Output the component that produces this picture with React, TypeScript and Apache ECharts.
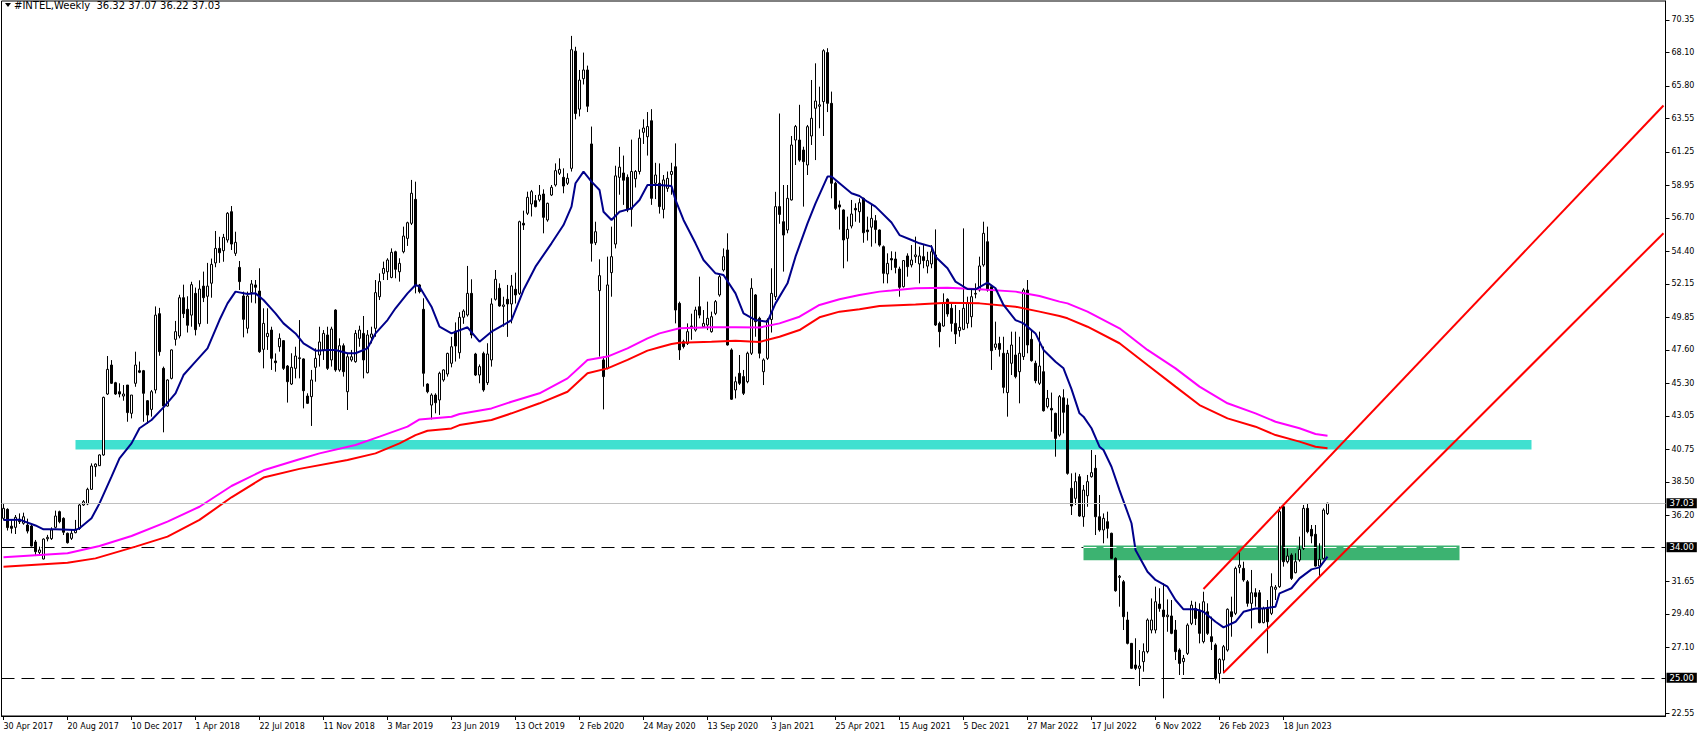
import React, { useEffect, useRef } from "react";
import * as echarts from "echarts";

// Weekly candles [open, high, low, close], first bar = week of 30 Apr 2017
const ohlc: number[][] = [
  [35.99, 37.05, 35.86, 36.68], [36.61, 36.68, 35.15, 35.35], [35.45, 35.88, 34.95, 35.30], [35.37, 36.22, 34.91, 36.06], [35.93, 36.33, 35.60, 35.76],
  [35.65, 36.38, 35.55, 36.10], [35.53, 35.97, 34.95, 35.11], [35.46, 35.53, 34.05, 34.08], [34.36, 34.50, 33.39, 33.69], [33.64, 34.04, 33.47, 33.81],
  [33.19, 34.61, 33.16, 34.56], [34.58, 34.85, 34.40, 34.68], [34.59, 35.37, 34.50, 35.19], [35.37, 36.52, 35.30, 36.15], [36.45, 36.52, 35.65, 35.76],
  [35.99, 36.06, 34.84, 35.03], [34.96, 35.01, 34.25, 34.31], [34.61, 35.23, 34.50, 34.96], [35.00, 35.88, 34.96, 35.24], [35.30, 37.02, 35.19, 36.91],
  [36.91, 37.25, 36.84, 37.14], [36.98, 38.10, 36.90, 37.99], [37.99, 39.78, 37.95, 39.60], [39.55, 39.78, 38.86, 39.73], [39.62, 40.40, 39.60, 40.36],
  [40.36, 44.38, 40.30, 44.33], [44.56, 47.18, 44.49, 46.26], [46.56, 46.90, 45.25, 45.30], [45.34, 45.40, 44.50, 44.56], [44.72, 45.30, 44.33, 44.56],
  [44.42, 45.18, 44.10, 44.56], [45.18, 45.18, 42.65, 43.28], [43.23, 44.49, 42.88, 44.49], [45.30, 47.48, 45.06, 46.56], [46.17, 46.80, 46.00, 46.06],
  [46.17, 46.22, 42.65, 44.61], [44.10, 44.14, 42.50, 43.11], [43.50, 44.84, 43.00, 44.72], [44.84, 50.60, 44.60, 50.00], [50.10, 50.50, 47.20, 47.48],
  [46.33, 46.45, 41.92, 43.73], [43.73, 45.57, 43.69, 45.53], [45.64, 47.64, 45.57, 47.60], [48.33, 49.60, 47.90, 48.86], [48.56, 51.40, 48.40, 51.20],
  [51.20, 52.10, 49.80, 50.10], [50.40, 51.30, 48.80, 49.30], [50.00, 52.30, 49.20, 52.10], [51.50, 51.90, 48.60, 49.00], [49.40, 52.40, 49.20, 51.80],
  [52.00, 53.00, 50.90, 51.20], [51.30, 53.60, 49.40, 52.00], [52.20, 53.90, 51.20, 53.50], [53.60, 55.80, 53.30, 54.60], [54.60, 55.40, 53.60, 54.30],
  [54.44, 55.60, 53.68, 55.36], [55.18, 57.10, 55.00, 57.02], [57.13, 57.52, 54.49, 54.90], [54.26, 55.75, 54.08, 55.02], [53.29, 53.73, 51.73, 52.31],
  [51.32, 51.62, 48.47, 49.71], [49.09, 51.62, 48.74, 51.32], [51.55, 52.42, 50.86, 52.15], [52.08, 52.42, 50.81, 51.92], [51.66, 53.23, 47.40, 47.48],
  [47.64, 50.47, 46.33, 49.43], [48.52, 50.47, 47.60, 48.74], [48.97, 49.20, 46.22, 47.02], [46.84, 47.36, 46.10, 46.72], [47.82, 48.74, 47.48, 48.40],
  [48.24, 48.28, 46.22, 46.33], [46.49, 46.56, 43.97, 45.41], [45.25, 47.37, 45.18, 46.40], [46.33, 47.82, 45.64, 47.18], [47.00, 49.66, 45.64, 47.06],
  [46.98, 47.02, 43.57, 44.79], [44.42, 44.61, 43.87, 43.92], [44.38, 46.22, 42.36, 45.53], [46.40, 47.71, 45.41, 47.02], [47.25, 49.20, 46.45, 48.15],
  [47.60, 48.97, 46.91, 48.74], [48.63, 49.20, 46.22, 46.33], [46.91, 49.20, 46.45, 49.04], [50.35, 50.40, 46.10, 46.22], [46.22, 48.40, 46.10, 47.89],
  [47.89, 48.05, 45.76, 46.10], [44.72, 47.36, 43.46, 47.13], [46.91, 47.60, 46.79, 47.13], [46.79, 48.97, 46.72, 48.74], [48.40, 49.27, 47.82, 48.97],
  [48.74, 49.94, 45.64, 46.91], [46.03, 48.97, 45.98, 48.63], [48.47, 49.20, 48.05, 48.70], [49.09, 52.42, 48.51, 51.55], [51.27, 52.88, 51.04, 52.31],
  [52.88, 53.69, 52.42, 53.22], [52.99, 53.92, 52.42, 53.80], [52.60, 54.60, 52.54, 54.33], [54.37, 54.44, 52.54, 53.16], [52.99, 53.92, 52.31, 53.57],
  [54.37, 56.10, 54.26, 55.45], [55.29, 56.44, 54.77, 56.37], [56.33, 59.32, 56.21, 58.40], [57.98, 59.20, 51.50, 52.00], [52.08, 52.15, 51.50, 51.62],
  [50.40, 51.16, 45.07, 45.99], [45.25, 45.30, 44.61, 44.72], [43.80, 44.61, 42.81, 44.49], [44.49, 44.61, 43.23, 43.96], [44.15, 46.10, 43.12, 45.99],
  [45.53, 46.26, 45.41, 46.22], [45.94, 47.41, 45.76, 47.36], [46.68, 48.50, 46.40, 47.82], [48.90, 49.50, 46.80, 47.87], [47.41, 50.20, 47.00, 49.85],
  [49.85, 50.40, 49.40, 50.28], [50.01, 53.39, 49.90, 51.50], [51.50, 52.47, 48.40, 48.63], [47.32, 47.40, 45.80, 45.87], [45.87, 46.60, 45.30, 46.45],
  [47.36, 47.48, 44.72, 44.84], [45.34, 48.06, 45.18, 47.32], [46.91, 51.16, 46.45, 50.77], [51.09, 53.11, 51.00, 52.47], [51.85, 52.19, 50.58, 50.63],
  [50.60, 51.27, 49.20, 50.70], [51.09, 52.08, 48.50, 50.77], [50.77, 52.77, 49.43, 52.01], [51.78, 52.93, 50.80, 51.39], [51.50, 56.51, 51.39, 56.44],
  [56.33, 57.20, 55.87, 56.21], [57.02, 58.51, 56.90, 58.12], [57.66, 58.63, 56.80, 58.51], [57.89, 58.28, 57.43, 57.48], [57.94, 58.97, 57.82, 58.28],
  [58.35, 58.67, 55.64, 56.74], [56.56, 57.75, 56.44, 57.71], [58.28, 58.97, 58.21, 58.81], [58.97, 60.46, 58.86, 59.96], [59.78, 60.81, 59.66, 60.05],
  [59.50, 60.12, 58.40, 58.90], [59.09, 59.78, 58.97, 59.43], [60.12, 69.25, 59.90, 68.30], [68.20, 68.50, 63.50, 63.90], [64.20, 66.90, 63.70, 66.20],
  [66.30, 68.10, 65.90, 66.90], [66.90, 67.20, 64.00, 64.40], [61.80, 63.00, 53.69, 54.95], [54.99, 56.44, 54.83, 55.75], [51.69, 53.85, 47.14, 52.72],
  [46.91, 47.14, 43.50, 45.76], [46.33, 54.03, 46.26, 52.08], [52.93, 56.10, 51.27, 54.03], [54.90, 60.30, 54.60, 59.60], [59.50, 61.60, 58.30, 60.20],
  [59.80, 61.00, 57.60, 59.30], [59.50, 59.70, 57.10, 57.25], [57.30, 62.10, 56.10, 59.90], [59.40, 60.00, 58.80, 59.90], [59.90, 62.80, 59.70, 62.20],
  [62.60, 63.50, 61.80, 62.90], [62.30, 64.00, 61.00, 63.00], [63.40, 64.20, 57.60, 58.05], [59.09, 60.50, 58.00, 59.66], [59.09, 60.46, 57.00, 57.48],
  [57.29, 59.66, 56.67, 59.32], [58.74, 59.90, 58.50, 59.43], [59.70, 60.50, 58.30, 59.90], [60.23, 61.84, 49.43, 50.35], [50.81, 50.93, 46.91, 47.60],
  [48.17, 48.30, 47.70, 47.83], [48.05, 49.43, 47.94, 48.86], [49.20, 50.10, 48.30, 49.25], [48.97, 50.58, 48.86, 50.35], [50.58, 52.65, 49.78, 50.00],
  [49.20, 50.35, 49.16, 49.43], [49.32, 50.93, 48.97, 49.78], [48.86, 50.24, 48.79, 49.89], [50.12, 51.04, 50.00, 50.93], [51.39, 52.77, 51.27, 52.65],
  [53.11, 54.60, 53.00, 54.03], [54.49, 55.64, 47.90, 47.94], [47.60, 47.71, 44.15, 44.20], [44.84, 45.76, 44.26, 45.41], [45.99, 47.25, 45.18, 45.30],
  [45.76, 46.22, 44.49, 44.61], [45.41, 47.48, 45.30, 47.37], [47.37, 52.54, 47.25, 51.85], [51.39, 51.45, 48.51, 49.55], [49.78, 49.89, 47.02, 47.37],
  [46.10, 47.02, 45.18, 46.91], [47.02, 49.78, 46.91, 49.66], [49.70, 53.23, 48.80, 51.50], [51.27, 58.50, 51.04, 57.48], [57.48, 63.90, 56.30, 56.94],
  [56.44, 58.97, 53.00, 55.52], [55.87, 58.97, 55.64, 58.05], [57.94, 62.35, 57.90, 61.73], [62.07, 63.11, 60.35, 63.00], [62.07, 64.50, 60.58, 60.69],
  [61.38, 61.61, 57.48, 60.58], [60.35, 63.11, 59.66, 62.99], [62.35, 66.21, 61.73, 63.57], [64.26, 67.36, 60.69, 64.76], [64.40, 65.75, 62.88, 64.50],
  [64.72, 68.33, 62.35, 68.23], [68.10, 68.40, 64.00, 64.60], [64.60, 65.41, 58.05, 59.09], [59.09, 59.20, 57.25, 57.36], [57.60, 57.90, 55.90, 57.45],
  [57.25, 57.29, 53.23, 55.18], [55.29, 56.79, 53.70, 55.91], [56.14, 57.94, 55.98, 56.97], [57.36, 57.71, 56.44, 57.25], [57.13, 58.05, 56.37, 57.75],
  [58.05, 58.10, 54.99, 55.68], [55.87, 56.79, 55.14, 55.75], [56.06, 57.59, 54.72, 56.67], [56.51, 56.90, 54.95, 55.91], [55.87, 55.91, 54.72, 54.83],
  [54.72, 54.80, 52.19, 52.88], [52.84, 54.26, 52.19, 53.57], [53.90, 54.40, 53.10, 53.80], [53.87, 54.37, 52.88, 53.29], [53.18, 53.34, 51.27, 51.92],
  [51.96, 53.80, 51.90, 53.76], [54.08, 54.26, 52.65, 53.34], [53.46, 54.83, 53.29, 53.80], [54.03, 55.41, 53.60, 54.15], [53.53, 54.72, 52.19, 54.08],
  [54.03, 54.83, 53.23, 53.76], [53.38, 54.37, 52.88, 53.76], [53.53, 54.83, 53.23, 54.37], [54.15, 55.91, 49.25, 49.32], [49.43, 49.55, 47.78, 48.86],
  [49.25, 51.50, 49.20, 50.81], [51.09, 51.16, 49.89, 50.08], [50.47, 50.81, 48.86, 49.43], [49.43, 50.70, 48.01, 48.70], [48.93, 50.35, 48.51, 49.16],
  [49.02, 55.98, 48.97, 50.47], [49.43, 51.27, 49.09, 50.81], [49.89, 51.85, 49.16, 51.27], [51.45, 52.19, 51.16, 51.50], [51.73, 54.03, 51.62, 53.39],
  [53.46, 56.44, 53.34, 55.64], [55.06, 56.10, 51.62, 51.73], [51.96, 52.08, 46.22, 47.55], [47.78, 49.55, 47.60, 48.01], [48.05, 48.51, 47.14, 47.64],
  [47.37, 48.51, 44.61, 45.02], [44.66, 47.60, 43.00, 47.37], [46.68, 48.86, 45.87, 47.94], [47.25, 48.86, 45.64, 45.76], [46.10, 48.51, 43.92, 47.37],
  [47.14, 51.85, 46.91, 51.73], [51.73, 52.42, 47.37, 47.94], [48.33, 48.97, 46.79, 46.86], [46.68, 46.86, 45.30, 45.48], [45.30, 48.86, 45.18, 46.49],
  [46.10, 47.83, 43.35, 43.41], [43.69, 44.84, 43.57, 44.26], [43.57, 44.66, 41.96, 43.46], [43.23, 43.27, 40.24, 41.50], [41.73, 44.49, 41.62, 44.38],
  [44.30, 44.89, 41.85, 43.30], [43.80, 44.26, 39.00, 39.09], [38.06, 39.09, 36.22, 36.84], [37.37, 39.14, 36.91, 38.52], [38.86, 39.04, 36.10, 36.15],
  [36.10, 38.29, 35.41, 37.94], [37.55, 38.98, 36.79, 38.52], [38.86, 40.70, 38.80, 39.14], [39.44, 40.36, 34.84, 36.10], [36.10, 37.60, 35.07, 35.19],
  [35.19, 36.33, 34.27, 35.99], [35.76, 36.45, 34.61, 35.30], [34.96, 35.00, 33.20, 33.23], [33.23, 33.30, 30.93, 31.00], [31.92, 32.08, 29.90, 32.00],
  [31.62, 31.74, 28.29, 29.21], [28.98, 29.55, 27.30, 27.37], [27.37, 27.40, 25.60, 25.65], [25.88, 27.72, 25.53, 25.65], [25.65, 26.91, 24.43, 25.81],
  [26.11, 27.37, 25.42, 26.80], [26.80, 29.09, 26.68, 28.98], [28.29, 30.47, 28.06, 28.98], [28.29, 31.28, 28.06, 30.24], [30.08, 31.17, 29.55, 29.78],
  [29.67, 31.51, 23.58, 29.21], [29.21, 30.40, 28.17, 29.32], [29.26, 30.36, 28.00, 28.06], [28.29, 28.98, 26.22, 26.80], [26.91, 27.03, 25.19, 25.99],
  [26.11, 26.57, 25.19, 26.34], [26.68, 28.75, 26.57, 28.63], [28.75, 30.31, 28.63, 30.01], [29.78, 30.24, 28.63, 29.09], [29.67, 30.13, 27.37, 28.06],
  [27.49, 30.93, 27.37, 30.24], [29.55, 30.13, 27.95, 28.06], [27.83, 29.21, 26.91, 27.49], [27.26, 27.37, 24.84, 24.96], [25.30, 26.34, 24.61, 26.27],
  [26.22, 27.26, 25.30, 27.14], [26.91, 29.78, 26.80, 29.72], [29.55, 30.59, 27.83, 29.21], [29.44, 32.66, 29.32, 32.54], [32.61, 33.69, 32.20, 32.77],
  [32.54, 33.00, 31.62, 31.74], [31.62, 31.74, 29.90, 30.13], [30.13, 32.43, 28.40, 30.86], [30.86, 31.17, 29.90, 30.59], [30.86, 31.05, 28.75, 28.80],
  [28.80, 29.90, 28.75, 29.78], [29.78, 30.36, 26.68, 28.86], [29.44, 32.20, 29.32, 31.28], [31.10, 31.39, 30.36, 31.24], [31.28, 36.79, 31.20, 36.45],
  [36.79, 37.02, 32.66, 33.00], [33.00, 33.92, 32.88, 33.39], [33.46, 33.58, 31.74, 31.85], [32.24, 33.58, 32.20, 33.00], [33.12, 34.73, 33.00, 33.85],
  [33.92, 36.91, 33.81, 36.68], [36.68, 37.02, 34.96, 35.07], [35.23, 35.53, 34.27, 34.77], [34.89, 35.53, 32.66, 32.70], [32.70, 34.27, 31.92, 33.16],
  [33.23, 36.68, 33.16, 36.56], [36.32, 37.07, 36.22, 37.03],
];

// Moving averages: [bar index, value]
const blueMA: number[][] = [
  [0, 35.88], [4, 35.9], [8, 35.5], [10, 35.23], [13, 35.23], [18, 35.19], [19, 35.3], [22, 36.0], [24, 37.02], [27, 38.86],
  [29, 40.13], [32, 41.16], [34, 42.2], [37, 42.77], [40, 43.64], [43, 44.61], [45, 45.87], [48, 46.79], [51, 47.71], [54, 49.66],
  [56, 50.81], [58, 51.62], [61, 51.46], [63, 51.5], [65, 51.04], [68, 50.12], [70, 49.43], [73, 48.74], [75, 48.05], [78, 47.55],
  [81, 47.6], [83, 47.6], [86, 47.37], [88, 47.37], [91, 47.71], [93, 48.74], [96, 49.66], [98, 50.47], [101, 51.5], [103, 52.08],
  [104, 51.96], [107, 50.58], [109, 49.2], [112, 48.74], [116, 49.16], [119, 48.17], [122, 48.86], [125, 49.32], [127, 49.66], [130, 51.73],
  [133, 53.34], [137, 54.95], [140, 56.21], [142, 57.48], [143, 59.09], [145, 59.89], [147, 59.2], [149, 58.63], [150, 57.13], [152, 56.56],
  [154, 57.13], [157, 57.36], [159, 57.94], [161, 58.97], [164, 58.97], [167, 58.9], [168, 57.94], [170, 56.56], [173, 54.95], [175, 53.8],
  [178, 52.88], [180, 52.77], [183, 51.5], [185, 50.12], [188, 49.66], [191, 49.55], [193, 50.81], [196, 52.19], [198, 54.03], [201, 56.33],
  [203, 57.71], [206, 59.55], [207, 59.55], [209, 59.09], [212, 58.4], [214, 58.21], [216, 57.82], [218, 57.48], [222, 56.38], [224, 55.52],
  [227, 55.18], [229, 54.95], [232, 54.72], [233, 54.03], [236, 53.23], [238, 52.31], [241, 51.8], [243, 51.78], [246, 52.24], [248, 51.85],
  [250, 50.7], [253, 49.66], [255, 49.43], [258, 48.74], [260, 47.6], [263, 46.79], [264, 46.56], [265, 46.33], [267, 44.9], [269, 43.23],
  [270, 43.0], [272, 42.2], [274, 40.93], [275, 40.7], [277, 39.55], [279, 37.94], [282, 35.65], [283, 33.81], [286, 32.31], [288, 31.74],
  [291, 31.28], [293, 30.36], [295, 29.72], [298, 29.72], [300, 29.55], [303, 28.86], [305, 28.47], [308, 28.86], [310, 29.55], [313, 29.78],
  [315, 29.78], [318, 29.9], [319, 30.82], [322, 31.17], [324, 31.85], [327, 32.47], [329, 32.61], [331, 33.35],
];
const magentaMA: number[][] = [
  [0, 33.3], [16, 33.58], [24, 34.08], [32, 34.77], [41, 35.76], [49, 36.79], [57, 38.22], [65, 39.3], [74, 40.06], [79, 40.47],
  [88, 41.05], [94, 41.62], [101, 42.31], [104, 42.81], [112, 42.99], [114, 43.18], [122, 43.57], [127, 44.03], [134, 44.61], [141, 45.64],
  [146, 46.91], [151, 47.14], [156, 47.71], [161, 48.4], [164, 48.74], [169, 49.09], [177, 49.16], [183, 49.16], [189, 49.14], [194, 49.43],
  [199, 49.89], [204, 50.7], [209, 51.09], [214, 51.39], [219, 51.62], [222, 51.69], [228, 51.85], [236, 51.89], [244, 51.78], [253, 51.62],
  [259, 51.32], [264, 50.93], [266, 50.81], [271, 50.24], [279, 49.09], [286, 47.6], [293, 46.33], [299, 45.07], [306, 43.92], [313, 43.23],
  [318, 42.65], [324, 42.2], [328, 41.8], [331, 41.69],
];
const redMA: number[][] = [
  [0, 32.66], [16, 32.93], [23, 33.23], [33, 34.04], [41, 34.73], [49, 35.88], [57, 37.44], [65, 38.8], [74, 39.4], [86, 40.01],
  [93, 40.47], [99, 41.16], [103, 41.73], [106, 42.03], [112, 42.19], [114, 42.42], [122, 42.77], [127, 43.23], [134, 43.92], [141, 44.72],
  [146, 45.99], [151, 46.33], [156, 46.91], [161, 47.55], [164, 47.78], [167, 48.01], [169, 48.1], [177, 48.17], [183, 48.24], [189, 48.15],
  [194, 48.51], [199, 48.97], [204, 49.85], [209, 50.24], [214, 50.4], [219, 50.63], [222, 50.67], [228, 50.74], [236, 50.86], [244, 50.81],
  [253, 50.58], [259, 50.24], [264, 49.94], [266, 49.78], [271, 49.2], [279, 48.06], [286, 46.56], [293, 45.07], [299, 43.8], [306, 42.88],
  [313, 42.31], [318, 41.73], [324, 41.28], [328, 40.93], [331, 40.82],
];

// Trend channel (red lines): [bar index, price]
const channelUpper: number[][] = [[300, 31.12], [415, 64.45]];
const channelLower: number[][] = [[305, 25.35], [415, 55.65]];

// Zones: [fromBar, toBar, topPrice, bottomPrice]
const cyanZone = [18, 382, 41.39, 40.73];
const greenZone = [270, 364, 34.12, 33.1];

const bidPrice = 37.03;
const levelPrices = [34.0, 25.0];

const timeLabels = [
  "30 Apr 2017", "20 Aug 2017", "10 Dec 2017", "1 Apr 2018", "22 Jul 2018", "11 Nov 2018", "3 Mar 2019",
  "23 Jun 2019", "13 Oct 2019", "2 Feb 2020", "24 May 2020", "13 Sep 2020", "3 Jan 2021", "25 Apr 2021",
  "15 Aug 2021", "5 Dec 2021", "27 Mar 2022", "17 Jul 2022", "6 Nov 2022", "26 Feb 2023", "18 Jun 2023",
];
const priceTicks = [
  22.55, 27.1, 29.4, 31.65, 36.2, 38.5, 40.75, 43.05, 45.3, 47.6, 49.85, 52.15, 54.4, 56.7, 58.95, 61.25, 63.55, 65.8, 68.1, 70.35,
];
const titleText = "#INTEL,Weekly  36.32 37.07 36.22 37.03";

const TOTAL_SLOTS = 416;
const LABEL_STEP = 16;
const FONT = "DejaVu Sans";

export default function App() {
  const ref = useRef<HTMLDivElement>(null);

  useEffect(() => {
    if (!ref.current) return;
    const chart = echarts.init(ref.current, undefined, { renderer: "svg" });

    const categories = Array.from({ length: TOTAL_SLOTS }, (_, i) =>
      i % LABEL_STEP === 0 && i / LABEL_STEP < timeLabels.length ? timeLabels[i / LABEL_STEP] : "w" + i
    );
    const showLabel = (i: number) => i % LABEL_STEP === 0 && i / LABEL_STEP < timeLabels.length;
    const candleData = ohlc.map(([o, h, l, c]) => [o, c, l, h]);

    const priceBox = (v: number) => ({
      show: true,
      position: "end",
      formatter: v.toFixed(2),
      color: "#ffffff",
      backgroundColor: "#000000",
      padding: [1, 3, 0, 3],
      fontSize: 8.5,
      fontFamily: FONT,
      distance: 1,
    });

    const option: any = {
      animation: false,
      backgroundColor: "#ffffff",
      grid: {
        left: 1.5,
        top: 1,
        width: 1664,
        height: 715,
        show: true,
        borderColor: "#000000",
        borderWidth: 1,
        backgroundColor: "transparent",
      },
      xAxis: {
        type: "category",
        data: categories,
        boundaryGap: true,
        axisLine: { show: true, lineStyle: { color: "#000000", width: 1 } },
        axisTick: {
          show: true,
          alignWithLabel: true,
          length: 4,
          interval: (i: number) => showLabel(i),
          lineStyle: { color: "#000000" },
        },
        axisLabel: {
          show: true,
          interval: (i: number) => showLabel(i),
          formatter: (v: string) => (v.startsWith("w") ? "" : v),
          align: "left",
          color: "#000000",
          fontSize: 8,
          fontFamily: FONT,
          margin: 6,
          padding: [0, 0, 0, 0],
        },
        splitLine: { show: false },
      },
      yAxis: {
        type: "value",
        position: "right",
        min: 22.363,
        max: 71.656,
        splitLine: { show: false },
        axisLine: { show: true, lineStyle: { color: "#000000", width: 1 } },
        axisTick: { show: true, customValues: priceTicks, length: 4, lineStyle: { color: "#000000" } },
        axisLabel: {
          show: true,
          customValues: priceTicks,
          formatter: (v: number) => v.toFixed(2),
          color: "#000000",
          fontSize: 8,
          fontFamily: FONT,
          margin: 6,
        },
      },
      series: [
        {
          name: "levelsBelow",
          type: "line",
          data: [],
          markLine: {
            silent: true,
            z: 0,
            symbol: ["none", "none"],
            data: levelPrices.map((p) => ({
              yAxis: p,
              lineStyle: { color: "#000000", type: [13, 7], width: 1 },
              label: priceBox(p),
            })),
          },
        },
        {
          name: "zones",
          type: "line",
          data: [],
          markArea: {
            silent: true,
            data: [
              [
                { xAxis: cyanZone[0], yAxis: cyanZone[2], itemStyle: { color: "#40E0D0", opacity: 1 } },
                { xAxis: cyanZone[1], yAxis: cyanZone[3] },
              ],
              [
                { xAxis: greenZone[0], yAxis: greenZone[2], itemStyle: { color: "#3CB371", opacity: 1 } },
                { xAxis: greenZone[1], yAxis: greenZone[3] },
              ],
            ],
          },
          markLine: {
            silent: true,
            symbol: ["none", "none"],
            data: [
              {
                yAxis: bidPrice,
                lineStyle: { color: "#C0C0C0", type: "solid", width: 1 },
                label: priceBox(bidPrice),
              },
              [
                { coord: [greenZone[0], levelPrices[0]], lineStyle: { color: "#ffffff", type: [13, 7], width: 1 }, label: { show: false } },
                { coord: [greenZone[1], levelPrices[0]] },
              ],
            ],
          },
        },
        {
          name: "INTEL",
          type: "candlestick",
          data: candleData,
          barWidth: 2,
          z: 3,
          itemStyle: {
            color: "#ffffff",
            color0: "#000000",
            borderColor: "#000000",
            borderColor0: "#000000",
            borderWidth: 1,
          },
        },
        {
          name: "MA slow 2",
          type: "line",
          data: redMA,
          showSymbol: false,
          z: 4,
          lineStyle: { color: "#FF0000", width: 2 },
        },
        {
          name: "MA slow 1",
          type: "line",
          data: magentaMA,
          showSymbol: false,
          z: 4,
          lineStyle: { color: "#FF00FF", width: 2 },
        },
        {
          name: "MA fast",
          type: "line",
          data: blueMA,
          showSymbol: false,
          z: 4,
          lineStyle: { color: "#00008B", width: 2 },
        },
        {
          name: "Channel upper",
          type: "line",
          data: channelUpper,
          showSymbol: false,
          z: 5,
          lineStyle: { color: "#FF0000", width: 2 },
        },
        {
          name: "Channel lower",
          type: "line",
          data: channelLower,
          showSymbol: false,
          z: 5,
          lineStyle: { color: "#FF0000", width: 2 },
        },
      ],
      graphic: [
        {
          type: "polygon",
          shape: { points: [[5, 3], [11, 3], [8, 7]] },
          style: { fill: "#000000" },
        },
        {
          type: "text",
          x: 14,
          y: 5.5,
          style: {
            text: titleText,
            fill: "#000000",
            font: `10px "${FONT}"`,
            verticalAlign: "middle",
          },
        },
      ],
    };

    chart.setOption(option);
    return () => chart.dispose();
  }, []);

  return (
    <div
      ref={ref}
      style={{ position: "absolute", left: 0, top: 0, width: 1704, height: 737, background: "#ffffff" }}
    />
  );
}
